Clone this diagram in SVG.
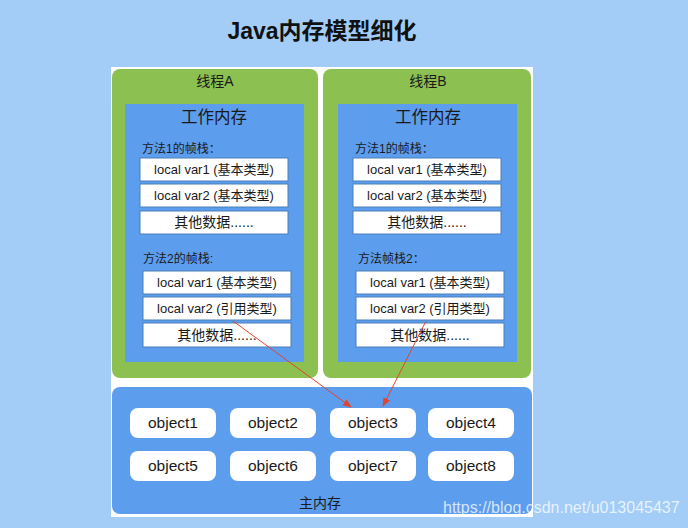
<svg xmlns="http://www.w3.org/2000/svg" width="688" height="528" viewBox="0 0 688 528">
<defs>
<style>
.cjk{font-family:"Liberation Sans","Noto Sans CJK SC",sans-serif;fill:#1a1a1a}
.green{fill:#8cc152}
.blue{fill:#5d9ded}
.box{fill:#ffffff;stroke:#4a7fb8;stroke-width:1}
.obj{fill:#ffffff}
.bt{font-size:13px;text-anchor:middle}
.bo{font-size:14px;text-anchor:middle}
.ot{font-family:"Liberation Sans","Noto Sans CJK SC",sans-serif;font-size:15.5px;text-anchor:middle;fill:#1a1a1a}
.lbl{font-size:12px}
.arrow{stroke:#e0452f;stroke-width:1;fill:none;marker-end:url(#ah)}
</style>
<marker id="ah" viewBox="0 0 10 10" refX="9" refY="5" markerWidth="9" markerHeight="9" markerUnits="userSpaceOnUse" orient="auto">
<path d="M0,1 L10,5 L0,9 z" fill="#e0452f"/>
</marker>
</defs>
<rect x="0" y="0" width="688" height="528" fill="#a3cdf7"/>
<rect x="111" y="67" width="422" height="450" fill="#ffffff"/>
<text x="322" y="39" font-family="Liberation Sans,'Noto Sans CJK SC',sans-serif" font-size="23" font-weight="bold" text-anchor="middle" fill="#111">Java内存模型细化</text>

<g id="threadA">
<rect class="green" x="112" y="69" width="206" height="309" rx="8"/>
<text class="cjk" x="215" y="86" font-size="14" text-anchor="middle">线程A</text>
<rect class="blue" x="125" y="104" width="179" height="258"/>
<text class="cjk" x="214" y="123" font-size="16.5" text-anchor="middle">工作内存</text>
<text class="cjk lbl" x="142" y="153">方法1的帧栈：</text>
<rect class="box" x="140" y="158" width="148" height="23"/>
<text class="cjk bt" x="214" y="174">local var1 (基本类型)</text>
<rect class="box" x="140" y="184" width="148" height="23"/>
<text class="cjk bt" x="214" y="200">local var2 (基本类型)</text>
<rect class="box" x="140" y="211" width="148" height="23"/>
<text class="cjk bo" x="214" y="227">其他数据......</text>
<text class="cjk lbl" x="143" y="263">方法2的帧栈:</text>
<rect class="box" x="143" y="271" width="148" height="23"/>
<text class="cjk bt" x="217" y="287">local var1 (基本类型)</text>
<rect class="box" x="143" y="297" width="148" height="23"/>
<text class="cjk bt" x="217" y="313">local var2 (引用类型)</text>
<rect class="box" x="143" y="323" width="148" height="24"/>
<text class="cjk bo" x="217" y="340">其他数据......</text>
</g>

<g id="threadB">
<rect class="green" x="323" y="69" width="208" height="309" rx="8"/>
<text class="cjk" x="428" y="86" font-size="14" text-anchor="middle">线程B</text>
<rect class="blue" x="338" y="104" width="179" height="258"/>
<text class="cjk" x="428" y="123" font-size="16.5" text-anchor="middle">工作内存</text>
<text class="cjk lbl" x="355" y="153">方法1的帧栈：</text>
<rect class="box" x="353" y="158" width="148" height="23"/>
<text class="cjk bt" x="427" y="174">local var1 (基本类型)</text>
<rect class="box" x="353" y="184" width="148" height="23"/>
<text class="cjk bt" x="427" y="200">local var2 (基本类型)</text>
<rect class="box" x="353" y="211" width="148" height="23"/>
<text class="cjk bo" x="427" y="227">其他数据......</text>
<text class="cjk lbl" x="358" y="263">方法帧栈2：</text>
<rect class="box" x="356" y="271" width="148" height="23"/>
<text class="cjk bt" x="430" y="287">local var1 (基本类型)</text>
<rect class="box" x="356" y="297" width="148" height="23"/>
<text class="cjk bt" x="430" y="313">local var2 (引用类型)</text>
<rect class="box" x="356" y="323" width="148" height="24"/>
<text class="cjk bo" x="430" y="340">其他数据......</text>
</g>

<g id="mainMemory">
<rect class="blue" x="112" y="387" width="420" height="127" rx="8"/>
<text class="cjk" x="320" y="508" font-size="14" text-anchor="middle">主内存</text>
</g>
<g id="object1"><rect class="obj" x="130" y="408" width="86" height="30" rx="8"/><text class="ot" x="173" y="428">object1</text></g>
<g id="object2"><rect class="obj" x="230" y="408" width="86" height="30" rx="8"/><text class="ot" x="273" y="428">object2</text></g>
<g id="object3"><rect class="obj" x="330" y="408" width="86" height="30" rx="8"/><text class="ot" x="373" y="428">object3</text></g>
<g id="object4"><rect class="obj" x="428" y="408" width="86" height="30" rx="8"/><text class="ot" x="471" y="428">object4</text></g>
<g id="object5"><rect class="obj" x="130" y="451" width="86" height="30" rx="8"/><text class="ot" x="173" y="471">object5</text></g>
<g id="object6"><rect class="obj" x="230" y="451" width="86" height="30" rx="8"/><text class="ot" x="273" y="471">object6</text></g>
<g id="object7"><rect class="obj" x="330" y="451" width="86" height="30" rx="8"/><text class="ot" x="373" y="471">object7</text></g>
<g id="object8"><rect class="obj" x="428" y="451" width="86" height="30" rx="8"/><text class="ot" x="471" y="471">object8</text></g>

<g id="connectors">
<line class="arrow" x1="233" y1="321" x2="351" y2="407"/>
<line class="arrow" x1="426" y1="321" x2="383" y2="406"/>
</g>

<text x="443" y="513" font-family="Liberation Sans,Arial,sans-serif" font-size="16" fill="#ffffff" fill-opacity="0.75">https://blog.csdn.net/u013045437</text>
</svg>
